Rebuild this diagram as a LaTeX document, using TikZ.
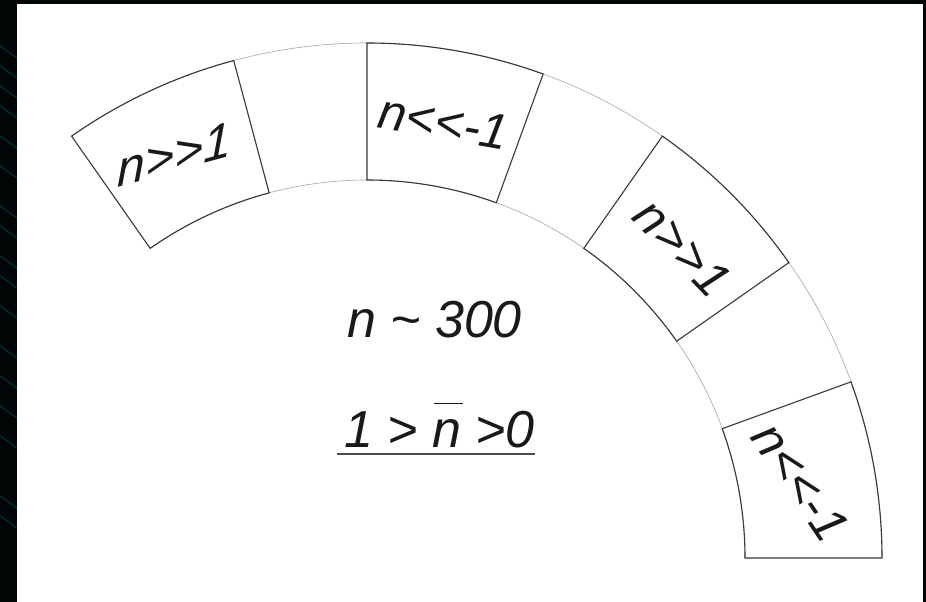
\documentclass[tikz,border=0pt]{standalone}
\usepackage{fontspec}
\setmainfont{Liberation Sans}[Ligatures=TeXOff]
\newcommand\barn{\rlap{\hspace{0.04em}\rule[0.84em]{0.55em}{1.6pt}}n}
\begin{document}
\begin{tikzpicture}[x=1pt,y=1pt,
  boxline/.style={draw=black!78, line width=1.1pt},
  gapline/.style={draw=black!35, line width=0.6pt},
  lbl/.style={font=\fontsize{50}{58}\selectfont\itshape, text=black!90, inner sep=0pt},
  mid/.style={font=\fontsize{52}{60}\selectfont\itshape, text=black!90, inner sep=0pt},
  streak/.style={draw=teal!55!black, line width=1.2pt, opacity=0.7}]
\useasboundingbox (0,0) rectangle (926,602);
% dark background
\fill[black!96!teal] (0,0) rectangle (926,602);
\begin{scope}
  \clip (0,0) rectangle (17,602);
  \foreach \y in {560,540,520,500,470,440,400,380,350,330,300,260,230,200,170,110,90}
    \draw[streak] (-5,\y) -- (25,\y-22);
\end{scope}
% white panel
\fill[white] (17,0) rectangle (923,598);
% arc bands
\begin{scope}[shift={(367,44)}]
  \def\ri{378}
  \def\ro{515}
  \draw[gapline] (0:\ri) arc[start angle=0, end angle=125, radius=\ri];
  \draw[gapline] (0:\ro) arc[start angle=0, end angle=125, radius=\ro];
  \foreach \a/\b in {0/20,35/55,70/90,105/125}
    \draw[boxline] (\a:\ri) -- (\a:\ro) arc[start angle=\a, end angle=\b, radius=\ro]
      -- (\b:\ri) arc[start angle=\b, end angle=\a, radius=\ri] -- cycle;
  \node[lbl, yslant=0.27] (t1) at (115.5:447) {n>>1};
  \node[lbl, rotate=-10] (t2) at (80:443) {n<<-1};
  \node[lbl, rotate=-46] (t3) at (44.5:443) {n>>1};
  \node[lbl, rotate=-56] (t4) at (10:440) {n<<-1};
\end{scope}
% central texts
\node[mid, anchor=base] (c1) at (434.5,264) {n \textasciitilde{} 300};
\node[mid, anchor=base] (c2) at (439.5,154) {1 > \barn{} >0};
\draw[line width=1.8pt, black!70] ([xshift=-7pt, yshift=-6pt]c2.base west) -- ([yshift=-6pt]c2.base east);
\end{tikzpicture}
\end{document}
